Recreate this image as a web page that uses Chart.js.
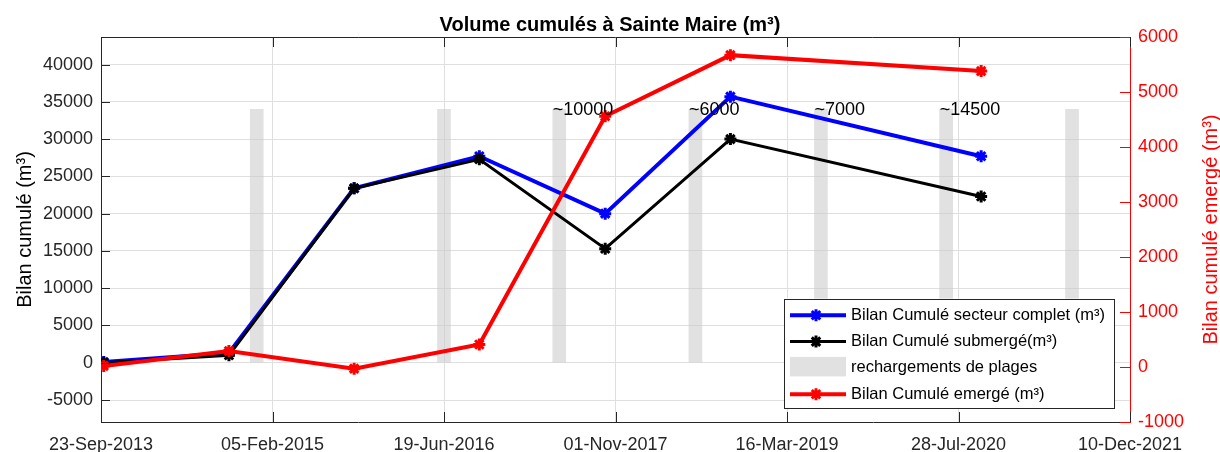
<!DOCTYPE html>
<html>
<head>
<meta charset="utf-8">
<script src="https://cdn.jsdelivr.net/npm/chart.js@4.4.1/dist/chart.umd.min.js"></script>
<style>
  html, body { margin: 0; padding: 0; background: #fff; }
  #volumeChart { display: block; }
</style>
</head>
<body>
<canvas id="volumeChart" width="1220" height="452"></canvas>
<script>
// survey dates and cumulated volumes (m3)
const surveyDates = ['2013-10-01', '2014-10-01', '2015-10-01', '2016-09-30', '2017-10-02', '2018-10-02', '2020-10-02'];
const bilanComplet = [100, 1300, 23400, 27700, 20000, 35700, 27700];
const bilanSubmerge = [0, 1000, 23400, 27300, 15300, 30000, 22300];
const bilanEmerge = [20, 290, -30, 410, 4560, 5670, 5380];

// beach nourishments (grey bars) and their volumes
const rechargeDates = ['2014-12-21', '2016-06-19', '2017-05-21', '2018-06-22', '2019-06-23', '2020-06-22', '2021-06-24'];
const rechargeHeight = [34000, 34000, 34000, 34000, 34000, 34000, 34000];
const rechargeLabels = ['', '', '~10000', '~6000', '~7000', '~14500', ''];

// axes
const xTickDates = ['2013-09-23', '2015-02-05', '2016-06-19', '2017-11-01', '2019-03-16', '2020-07-28', '2021-12-10'];
const yLeftTicks = [-5000, 0, 5000, 10000, 15000, 20000, 25000, 30000, 35000, 40000];
const yRightTicks = [-1000, 0, 1000, 2000, 3000, 4000, 5000, 6000];

const seriesNames = [
    'Bilan Cumulé secteur complet (m³)',
    'Bilan Cumulé submergé(m³)',
    'rechargements de plages',
    'Bilan Cumulé emergé (m³)'
];

const FONT = "'Liberation Sans', Arial, sans-serif";
const AXIS = '#262626';
const GRID = '#dfdfdf';
const RED = '#ff0000';
const BLUE = '#0000ff';
const BAR = 'rgba(200, 200, 200, 0.55)';
const MONTHS = ['Jan', 'Feb', 'Mar', 'Apr', 'May', 'Jun', 'Jul', 'Aug', 'Sep', 'Oct', 'Nov', 'Dec'];

function toDay(s) {
    const [y, m, d] = s.split('-').map(Number);
    return Date.UTC(y, m - 1, d) / 864e5;
}

function formatDay(v) {
    const d = new Date(Math.round(v) * 864e5);
    const dd = String(d.getUTCDate()).padStart(2, '0');
    return `${dd}-${MONTHS[d.getUTCMonth()]}-${d.getUTCFullYear()}`;
}

function points(values) {
    return surveyDates.map((d, i) => ({ x: toDay(d), y: values[i] }));
}

Chart.defaults.font.family = FONT;
Chart.defaults.color = AXIS;

// frame, inward ticks, right title, bar labels and legend box
const decorations = {
    id: 'decorations',
    afterDatasetsDraw(chart) {
        const { ctx, scales } = chart;
        ctx.save();
        ctx.fillStyle = '#000';
        ctx.font = `18px ${FONT}`;
        ctx.textAlign = 'left';
        ctx.textBaseline = 'middle';
        rechargeLabels.forEach((txt, i) => {
            if (!txt) return;
            const x = scales.x.getPixelForValue(toDay(rechargeDates[i])) - 6.5;
            const y = scales.y.getPixelForValue(rechargeHeight[i]) + 1;
            ctx.fillText(txt, x, y);
        });
        ctx.restore();
    },
    afterDraw(chart) {
        const { ctx, chartArea: a, scales } = chart;
        ctx.save();
        ctx.lineWidth = 1;
        ctx.strokeStyle = AXIS;
        ctx.beginPath();
        ctx.moveTo(a.left, Math.round(a.top) + 0.5);
        ctx.lineTo(a.right, Math.round(a.top) + 0.5);
        scales.x.ticks.forEach(t => {
            const px = Math.round(scales.x.getPixelForValue(t.value)) + 0.5;
            ctx.moveTo(px, a.bottom);
            ctx.lineTo(px, a.bottom - 10);
            ctx.moveTo(px, a.top);
            ctx.lineTo(px, a.top + 10);
        });
        scales.y.ticks.forEach(t => {
            const py = Math.round(scales.y.getPixelForValue(t.value)) + 0.5;
            ctx.moveTo(a.left, py);
            ctx.lineTo(a.left + 9, py);
        });
        ctx.stroke();

        ctx.strokeStyle = RED;
        ctx.beginPath();
        scales.y2.ticks.forEach(t => {
            const py = Math.round(scales.y2.getPixelForValue(t.value)) + 0.5;
            ctx.moveTo(a.right, py);
            ctx.lineTo(a.right - 10, py);
        });
        ctx.stroke();

        // right axis title, reading upwards like the left one
        ctx.save();
        ctx.translate(1211, (a.top + a.bottom) / 2);
        ctx.rotate(-Math.PI / 2);
        ctx.fillStyle = RED;
        ctx.font = `20px ${FONT}`;
        ctx.textAlign = 'center';
        ctx.textBaseline = 'middle';
        ctx.fillText('Bilan cumulé emergé (m³)', 0, 0);
        ctx.restore();

        // legend
        ctx.font = `16.5px ${FONT}`;
        const textW = Math.max(...seriesNames.map(s => ctx.measureText(s).width));
        const boxW = 66.6 + textW + 9;
        const boxH = 109;
        const right = a.right - 16;
        const left = right - boxW;
        const top = a.bottom - 14.4 - boxH;
        ctx.fillStyle = '#fff';
        ctx.fillRect(left, top, boxW, boxH);
        ctx.strokeStyle = AXIS;
        ctx.strokeRect(Math.round(left) + 0.5, Math.round(top) + 0.5, Math.round(boxW), Math.round(boxH));

        const samples = [
            { color: BLUE, width: 4 },
            { color: '#000', width: 3 },
            null,
            { color: RED, width: 4 }
        ];
        seriesNames.forEach((name, i) => {
            const y = top + 16.7 + i * 26.3;
            const s = samples[i];
            if (s) {
                ctx.strokeStyle = s.color;
                ctx.fillStyle = s.color;
                ctx.lineWidth = s.width;
                ctx.beginPath();
                ctx.moveTo(left + 5.6, y);
                ctx.lineTo(left + 61.6, y);
                ctx.stroke();
                ctx.lineWidth = 3;
                Chart.helpers.drawPoint(ctx, { pointStyle: 'star', radius: 6, borderWidth: 3, rotation: 0 }, left + 31.6, y);
            } else {
                ctx.fillStyle = BAR;
                ctx.fillRect(left + 5.6, y - 11, 56, 19.5);
            }
            ctx.fillStyle = '#000';
            ctx.textAlign = 'left';
            ctx.textBaseline = 'middle';
            ctx.fillText(name, left + 66.6, y);
        });
        ctx.restore();
    }
};

const ctx = document.getElementById('volumeChart').getContext('2d');

new Chart(ctx, {
    type: 'line',
    data: {
        datasets: [
            {
                label: seriesNames[3],
                data: points(bilanEmerge),
                yAxisID: 'y2',
                borderColor: RED,
                backgroundColor: RED,
                borderWidth: 4,
                pointStyle: 'star',
                pointRadius: 6,
                pointBorderWidth: 3,
                order: 0
            },
            {
                label: seriesNames[1],
                data: points(bilanSubmerge),
                yAxisID: 'y',
                borderColor: '#000',
                backgroundColor: '#000',
                borderWidth: 3,
                pointStyle: 'star',
                pointRadius: 6,
                pointBorderWidth: 3,
                order: 1
            },
            {
                label: seriesNames[0],
                data: points(bilanComplet),
                yAxisID: 'y',
                borderColor: BLUE,
                backgroundColor: BLUE,
                borderWidth: 4,
                pointStyle: 'star',
                pointRadius: 6,
                pointBorderWidth: 3,
                order: 2
            },
            {
                type: 'bar',
                label: seriesNames[2],
                data: rechargeDates.map((d, i) => ({ x: toDay(d), y: [0, rechargeHeight[i]] })),
                yAxisID: 'y',
                backgroundColor: BAR,
                borderWidth: 0,
                barThickness: 13,
                order: 3
            }
        ]
    },
    options: {
        responsive: false,
        animation: false,
        events: [],
        layout: { padding: 0 },
        plugins: {
            legend: { display: false },
            tooltip: { enabled: false },
            title: {
                display: true,
                text: 'Volume cumulés à Sainte Maire (m³)',
                color: '#000',
                font: { size: 20, weight: 'bold' },
                padding: { top: 13, bottom: 0 }
            }
        },
        scales: {
            x: {
                type: 'linear',
                offset: false,
                min: toDay(xTickDates[0]),
                max: toDay(xTickDates[xTickDates.length - 1]),
                afterBuildTicks: s => { s.ticks = xTickDates.map(d => ({ value: toDay(d) })); },
                afterFit: s => { s.height = 30; },
                ticks: {
                    callback: v => formatDay(v),
                    font: { size: 18 },
                    color: AXIS,
                    padding: 12,
                    maxRotation: 0,
                    autoSkip: false
                },
                grid: { color: GRID, drawTicks: false, offset: false },
                border: { color: AXIS }
            },
            y: {
                position: 'left',
                min: -7950,
                max: 43700,
                afterBuildTicks: s => { s.ticks = yLeftTicks.map(v => ({ value: v })); },
                afterFit: s => { s.width = 101; },
                ticks: { callback: v => String(v), font: { size: 18 }, color: AXIS, padding: 8 },
                grid: { color: GRID, drawTicks: false },
                border: { color: AXIS },
                title: {
                    display: true,
                    text: 'Bilan cumulé (m³)',
                    color: '#000',
                    font: { size: 20 },
                    padding: { top: 13, bottom: 0 }
                }
            },
            y2: {
                position: 'right',
                min: -1000,
                max: 6000,
                afterBuildTicks: s => { s.ticks = yRightTicks.map(v => ({ value: v })); },
                afterFit: s => { s.width = 90; },
                ticks: { callback: v => String(v), font: { size: 18 }, color: RED, padding: 8 },
                grid: { display: false, drawTicks: false },
                border: { color: RED }
            }
        }
    },
    plugins: [decorations]
});
</script>
</body>
</html>
